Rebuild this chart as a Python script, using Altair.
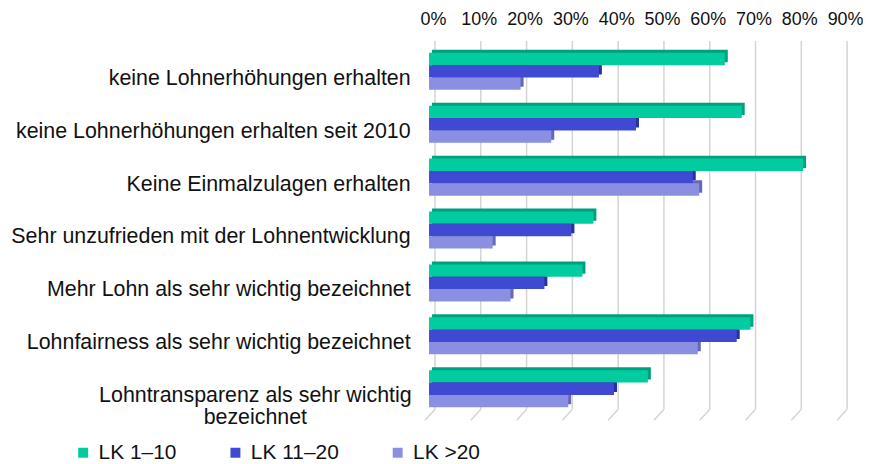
import altair as alt
import pandas as pd

categories = [
    "keine Lohnerhöhungen erhalten",
    "keine Lohnerhöhungen erhalten seit 2010",
    "Keine Einmalzulagen erhalten",
    "Sehr unzufrieden mit der Lohnentwicklung",
    "Mehr Lohn als sehr wichtig bezeichnet",
    "Lohnfairness als sehr wichtig bezeichnet",
    "Lohntransparenz als sehr wichtig bezeichnet",
]
series = ["LK 1–10", "LK 11–20", "LK >20"]
lk_1_10 = [0.646, 0.683, 0.817, 0.359, 0.335, 0.702, 0.478]
lk_11_20 = [0.371, 0.452, 0.576, 0.311, 0.252, 0.672, 0.404]
lk_over_20 = [0.200, 0.267, 0.590, 0.139, 0.178, 0.587, 0.304]
tick_values = [0.0, 0.1, 0.2, 0.3, 0.4, 0.5, 0.6, 0.7, 0.8, 0.9]

front_colors = ["#00CCA0", "#4049D2", "#8A8FE2"]
depth_colors = ["#00A07E", "#2A309C", "#6468B6"]

rows = []
for vals, s in zip([lk_1_10, lk_11_20, lk_over_20], series):
    for c, v in zip(categories, vals):
        rows.append({"cat": c, "series": s, "value": v})
df = pd.DataFrame(rows)
ticks_df = pd.DataFrame({"t": tick_values})

W, H = 414, 372
band = H / 7 * 0.7

x_scale = alt.Scale(domain=[0, 0.9], nice=False)
wrapped = "Lohntransparenz als sehr wichtig bezeichnet"
test = f"datum.value == '{wrapped}'"
label_expr = (
    f"datum.label == '{wrapped}' ? "
    "['Lohntransparenz als sehr wichtig', 'bezeichnet'] : datum.label"
)

y_enc = alt.Y(
    "cat:N",
    sort=categories,
    scale=alt.Scale(paddingInner=0.3, paddingOuter=0.15),
    axis=alt.Axis(
        title=None, domain=False, ticks=False, labelFontSize=21.5,
        labelPadding=alt.ConditionalAxisNumber(
            condition={"test": test, "value": 175}, value=19
        ),
        labelAlign=alt.ConditionalAxisLabelAlign(
            condition={"test": test, "value": "center"}, value="right"
        ),
        labelLimit=500, labelColor="#111",
        labelExpr=label_expr, labelLineHeight=22, labelOffset=7.5,
    ),
)

x_axis = alt.Axis(
    orient="top", values=tick_values, format=".0%", title=None,
    domain=False, ticks=False, grid=False, labelFontSize=18,
    labelPadding=16, labelOffset=4, labelColor="#111", labelOverlap=False,
    labelFlush=False,
)

grid = alt.Chart(ticks_df).mark_rule(color="#d4d4d4", strokeWidth=1.5, xOffset=6).encode(
    x=alt.X("t:Q", scale=x_scale, axis=x_axis),
    y=alt.value(-4),
    y2=alt.value(H - 6),
)

grid_floor = alt.Chart(ticks_df).mark_rule(
    color="#d4d4d4", strokeWidth=1.5, xOffset=6, x2Offset=-4
).encode(
    x=alt.X("t:Q", scale=x_scale),
    x2=alt.X2("t:Q"),
    y=alt.value(H - 6),
    y2=alt.value(H + 5),
)

depth = alt.Chart(df).mark_bar(xOffset=3, x2Offset=3).encode(
    x=alt.X("value:Q", scale=x_scale),
    y=y_enc,
    yOffset=alt.YOffset("series:N", sort=series, scale=alt.Scale(range=[-3, band - 3])),
    color=alt.Color("series:N", scale=alt.Scale(domain=series, range=depth_colors), legend=None),
)

front = alt.Chart(df).mark_bar().encode(
    x=alt.X("value:Q", scale=x_scale),
    y=y_enc,
    yOffset=alt.YOffset("series:N", sort=series, scale=alt.Scale(range=[0, band])),
    color=alt.Color(
        "series:N",
        scale=alt.Scale(domain=series, range=front_colors),
        sort=series,
        legend=alt.Legend(
            title=None, orient="none", legendX=-358, legendY=399,
            direction="horizontal", symbolType="square", symbolSize=100,
            symbolStrokeWidth=0, labelFontSize=21, columnPadding=48,
            labelOffset=5, labelColor="#111",
        ),
    ),
)

chart = (
    alt.layer(grid, grid_floor, depth, front)
    .resolve_scale(yOffset="independent", color="independent")
    .properties(
        width=W, height=H,
        autosize=alt.AutoSizeParams(type="none"),
        padding={"left": 423, "top": 36, "right": 22, "bottom": 48},
    )
    .configure(font="Liberation Sans")
    .configure_view(stroke=None)
)

chart.save("out.html", embed_options={"renderer": "svg", "actions": False})
